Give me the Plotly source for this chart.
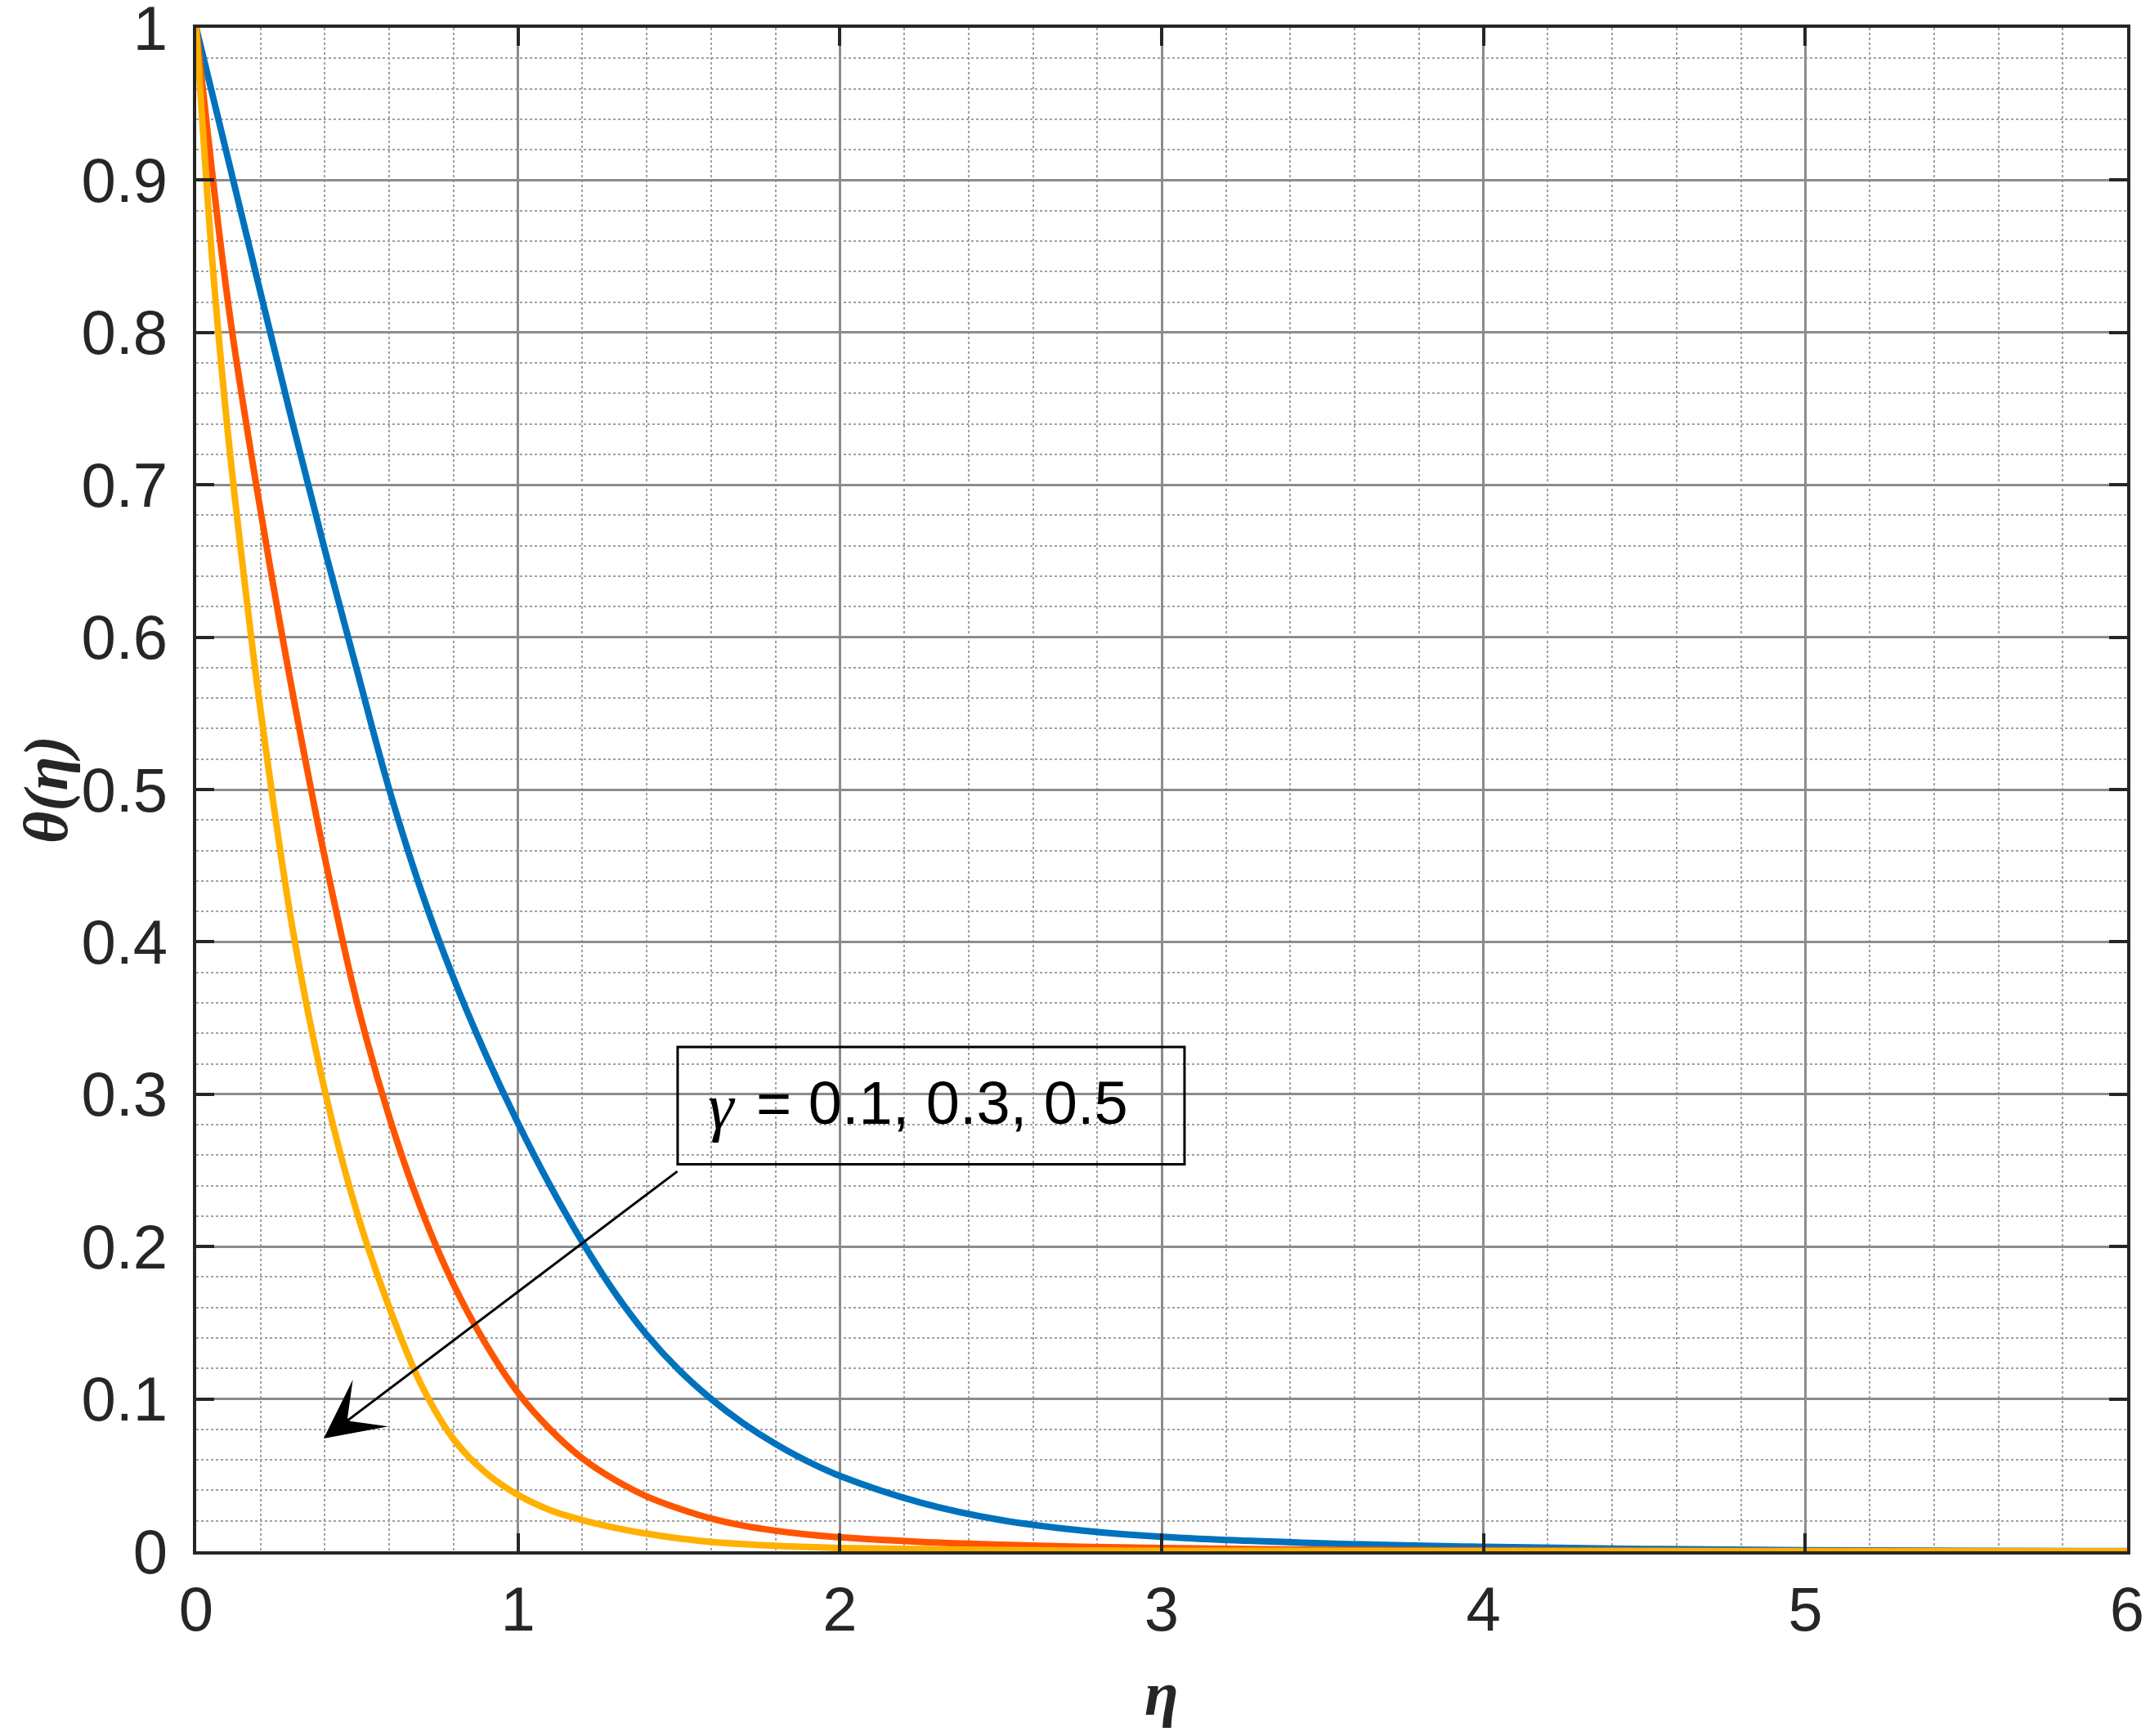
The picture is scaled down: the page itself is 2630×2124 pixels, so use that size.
import plotly.graph_objects as go

# values (eta, theta) for each gamma
eta_g01 = [0, 0.1, 0.2, 0.3, 0.4, 0.5, 0.6, 0.7, 0.8, 0.9, 1.0, 1.1, 1.2, 1.3, 1.4, 1.5,
           1.6, 1.7, 1.8, 1.9, 2.0, 2.25, 2.5, 2.75, 3.0, 3.5, 4.0, 4.5, 5.0, 5.5, 6.0]
theta_g01 = [1.0, 0.913, 0.826, 0.74, 0.657, 0.578, 0.5, 0.433, 0.376, 0.326, 0.281, 0.24,
             0.203, 0.17, 0.142, 0.119, 0.1, 0.084, 0.0705, 0.059, 0.0495, 0.032,
             0.0205, 0.0137, 0.0095, 0.0052, 0.0029, 0.0015, 0.0007, 0.0003, 0.0001]

eta_g03 = [0, 0.1, 0.2, 0.3, 0.4, 0.5, 0.6, 0.7, 0.8, 0.9, 1.0, 1.1, 1.2, 1.3, 1.4, 1.5,
           1.6, 1.7, 1.8, 1.9, 2.0, 2.25, 2.5, 2.75, 3.0, 3.5, 4.0, 5.0, 6.0]
theta_g03 = [1.0, 0.818, 0.683, 0.563, 0.455, 0.36, 0.285, 0.224, 0.175, 0.136, 0.104,
             0.08, 0.061, 0.047, 0.036, 0.028, 0.0215, 0.0168, 0.0135, 0.011, 0.0092,
             0.0062, 0.0043, 0.003, 0.0021, 0.001, 0.0005, 0.0001, 0.0]

eta_g05 = [0, 0.05, 0.1, 0.15, 0.2, 0.3, 0.4, 0.5, 0.6, 0.7, 0.8, 0.9, 1.0, 1.1, 1.2,
           1.3, 1.4, 1.5, 1.6, 1.8, 2.0, 2.5, 3.0, 4.0, 6.0]
theta_g05 = [1.0, 0.847, 0.731, 0.637, 0.552, 0.408, 0.302, 0.222, 0.16, 0.109, 0.0735,
             0.0515, 0.037, 0.027, 0.0205, 0.0155, 0.0115, 0.0085, 0.0062, 0.0036, 0.0022,
             0.0008, 0.0003, 0.0001, 0.0]

y_ticks = [0, 0.1, 0.2, 0.3, 0.4, 0.5, 0.6, 0.7, 0.8, 0.9, 1.0]
y_labels = ["0", "0.1", "0.2", "0.3", "0.4", "0.5", "0.6", "0.7", "0.8", "0.9", "1"]
x_ticks = [0, 1, 2, 3, 4, 5, 6]

COLORS = ["#0072BD", "#FF5500", "#FFB000"]
SANS = "Liberation Sans"
SERIF = "Liberation Serif"
INK = "#262626"

fig = go.Figure()
for (x, y), c in zip([(eta_g01, theta_g01), (eta_g03, theta_g03), (eta_g05, theta_g05)], COLORS):
    fig.add_trace(go.Scatter(x=x, y=y, mode="lines", cliponaxis=False,
                             line=dict(color=c, width=8, shape="spline", smoothing=1.0),
                             showlegend=False))

axis_common = dict(
    showline=True, linecolor=INK, linewidth=3.5, mirror="ticks",
    ticks="inside", ticklen=22, tickwidth=3.5, tickcolor=INK,
    showgrid=True, gridcolor="#8c8c8c", gridwidth=2.5,
    zeroline=False, ticklabeloverflow="allow", automargin=False,
    tickfont=dict(family=SANS, size=76, color=INK),
)

fig.update_xaxes(range=[0, 6], tickmode="array", tickvals=x_ticks, ticklabelstandoff=2,
                 minor=dict(dtick=0.2, tick0=0, showgrid=True, griddash="dot",
                            gridcolor="#a0a0a0", gridwidth=2),
                 **axis_common)
fig.update_yaxes(range=[0, 1], tickmode="array", tickvals=y_ticks, ticktext=y_labels,
                 ticklabelstandoff=16,
                 minor=dict(dtick=0.02, tick0=0, showgrid=True, griddash="dot",
                            gridcolor="#a0a0a0", gridwidth=2),
                 **axis_common)

# label box and arrow
fig.add_shape(type="rect", xref="x", yref="y", x0=1.496, x1=3.071, y0=0.254, y1=0.331,
              line=dict(color="black", width=3))
fig.add_annotation(x=1.585, y=0.292, xref="x", yref="y", xanchor="left", yanchor="middle",
                   showarrow=False, text="<i>γ</i>",
                   font=dict(family=SERIF, size=80, color="black"))
fig.add_annotation(x=1.735, y=0.294, xref="x", yref="y", xanchor="left", yanchor="middle",
                   showarrow=False, text="= 0.1, 0.3, 0.5",
                   font=dict(family=SANS, size=74, color="black"))
fig.add_annotation(x=0.396, y=0.074, ax=1.499, ay=0.25, xref="x", yref="y",
                   axref="x", ayref="y", text="", showarrow=True,
                   arrowhead=3, arrowsize=4, arrowwidth=3, arrowcolor="black")

# axis titles
fig.add_annotation(x=0.5, y=0, xref="paper", yref="paper", yshift=-174,
                   xanchor="center", yanchor="middle", showarrow=False,
                   text="<b><i>η</i></b>", font=dict(family=SERIF, size=76, color=INK))
fig.add_annotation(x=0, y=0.5, xref="paper", yref="paper", xshift=-184,
                   xanchor="center", yanchor="middle", showarrow=False, textangle=-90,
                   text="<b><i>θ(η)</i></b>", font=dict(family=SERIF, size=76, color=INK))

# the page body adds 8px on every side, so the figure is made that much smaller
fig.update_layout(
    width=2614, height=2108, autosize=False,
    margin=dict(l=232, r=20, t=26, b=218),
    plot_bgcolor="white", paper_bgcolor="white",
)

fig.write_html("out.html")
